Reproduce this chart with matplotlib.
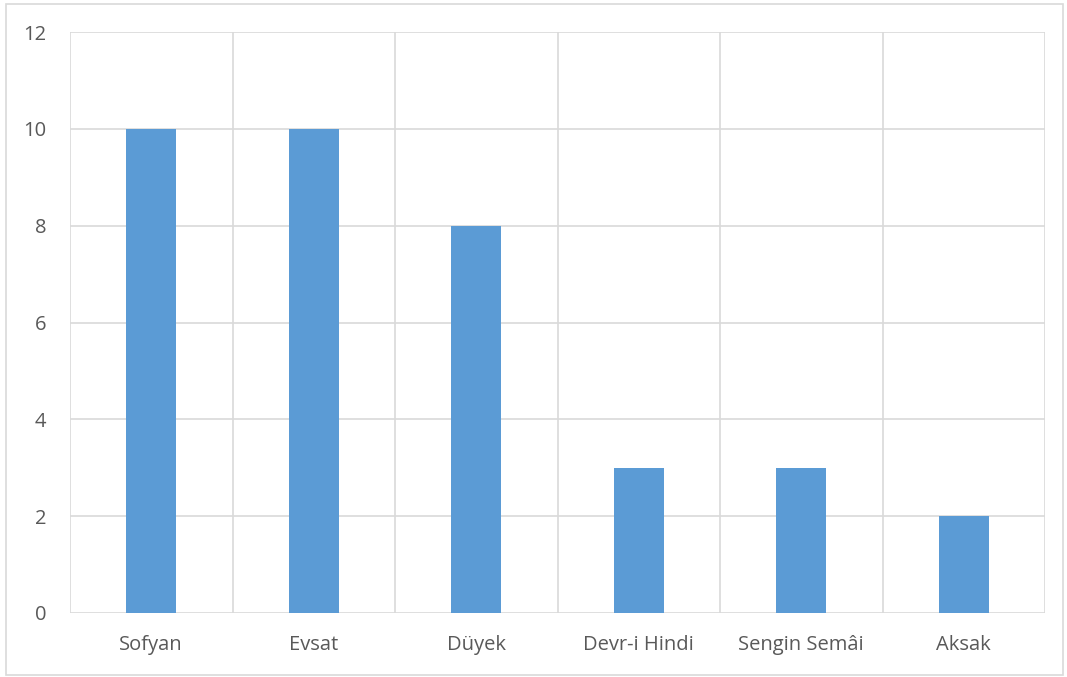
import matplotlib
matplotlib.use("Agg")
import matplotlib.pyplot as plt
from matplotlib.patches import Rectangle

categories = ["Sofyan", "Evsat", "Düyek", "Devr-i Hindi", "Sengin Semâi", "Aksak"]
values = [10, 10, 8, 3, 3, 2]
yticks = [0, 2, 4, 6, 8, 10, 12]

plt.rcParams['font.family'] = ['Open Sans', 'DejaVu Sans']
text_color = "#595959"
grid_color = "#D9D9D9"
bar_color = "#5B9BD5"

fig = plt.figure(figsize=(10.67, 6.77), dpi=100)
W, H = 1067, 677
ax = fig.add_axes([70 / W, 1 - 613 / H, (1045 - 70) / W, (613 - 32) / H])

x = list(range(len(categories)))
ax.bar(x, values, width=0.31, color=bar_color, zorder=3)

ax.set_xlim(-0.5, len(categories) - 0.5)
ax.set_ylim(0, 12)
ax.set_yticks(yticks)
ax.set_yticklabels([str(t) for t in yticks])
ax.set_xticks(x)
ax.set_xticklabels(categories)

# horizontal gridlines at the y ticks, vertical separators between categories
for t in yticks:
    ax.axhline(t, color=grid_color, linewidth=1.2, zorder=1)
for b in [i - 0.5 for i in range(len(categories) + 1)]:
    ax.axvline(b, color=grid_color, linewidth=1.2, zorder=1)

for s in ax.spines.values():
    s.set_visible(False)
ax.tick_params(axis="both", length=0, labelsize=14.5, colors=text_color)
ax.tick_params(axis="y", pad=17)
ax.tick_params(axis="x", pad=16)

# outer chart border
fig.patches.append(Rectangle((6 / W, 1 - 675 / H), (1063 - 6) / W, (675 - 4) / H,
                             transform=fig.transFigure, fill=False,
                             edgecolor=grid_color, linewidth=1.2))

fig.savefig("out.png", dpi=100)
